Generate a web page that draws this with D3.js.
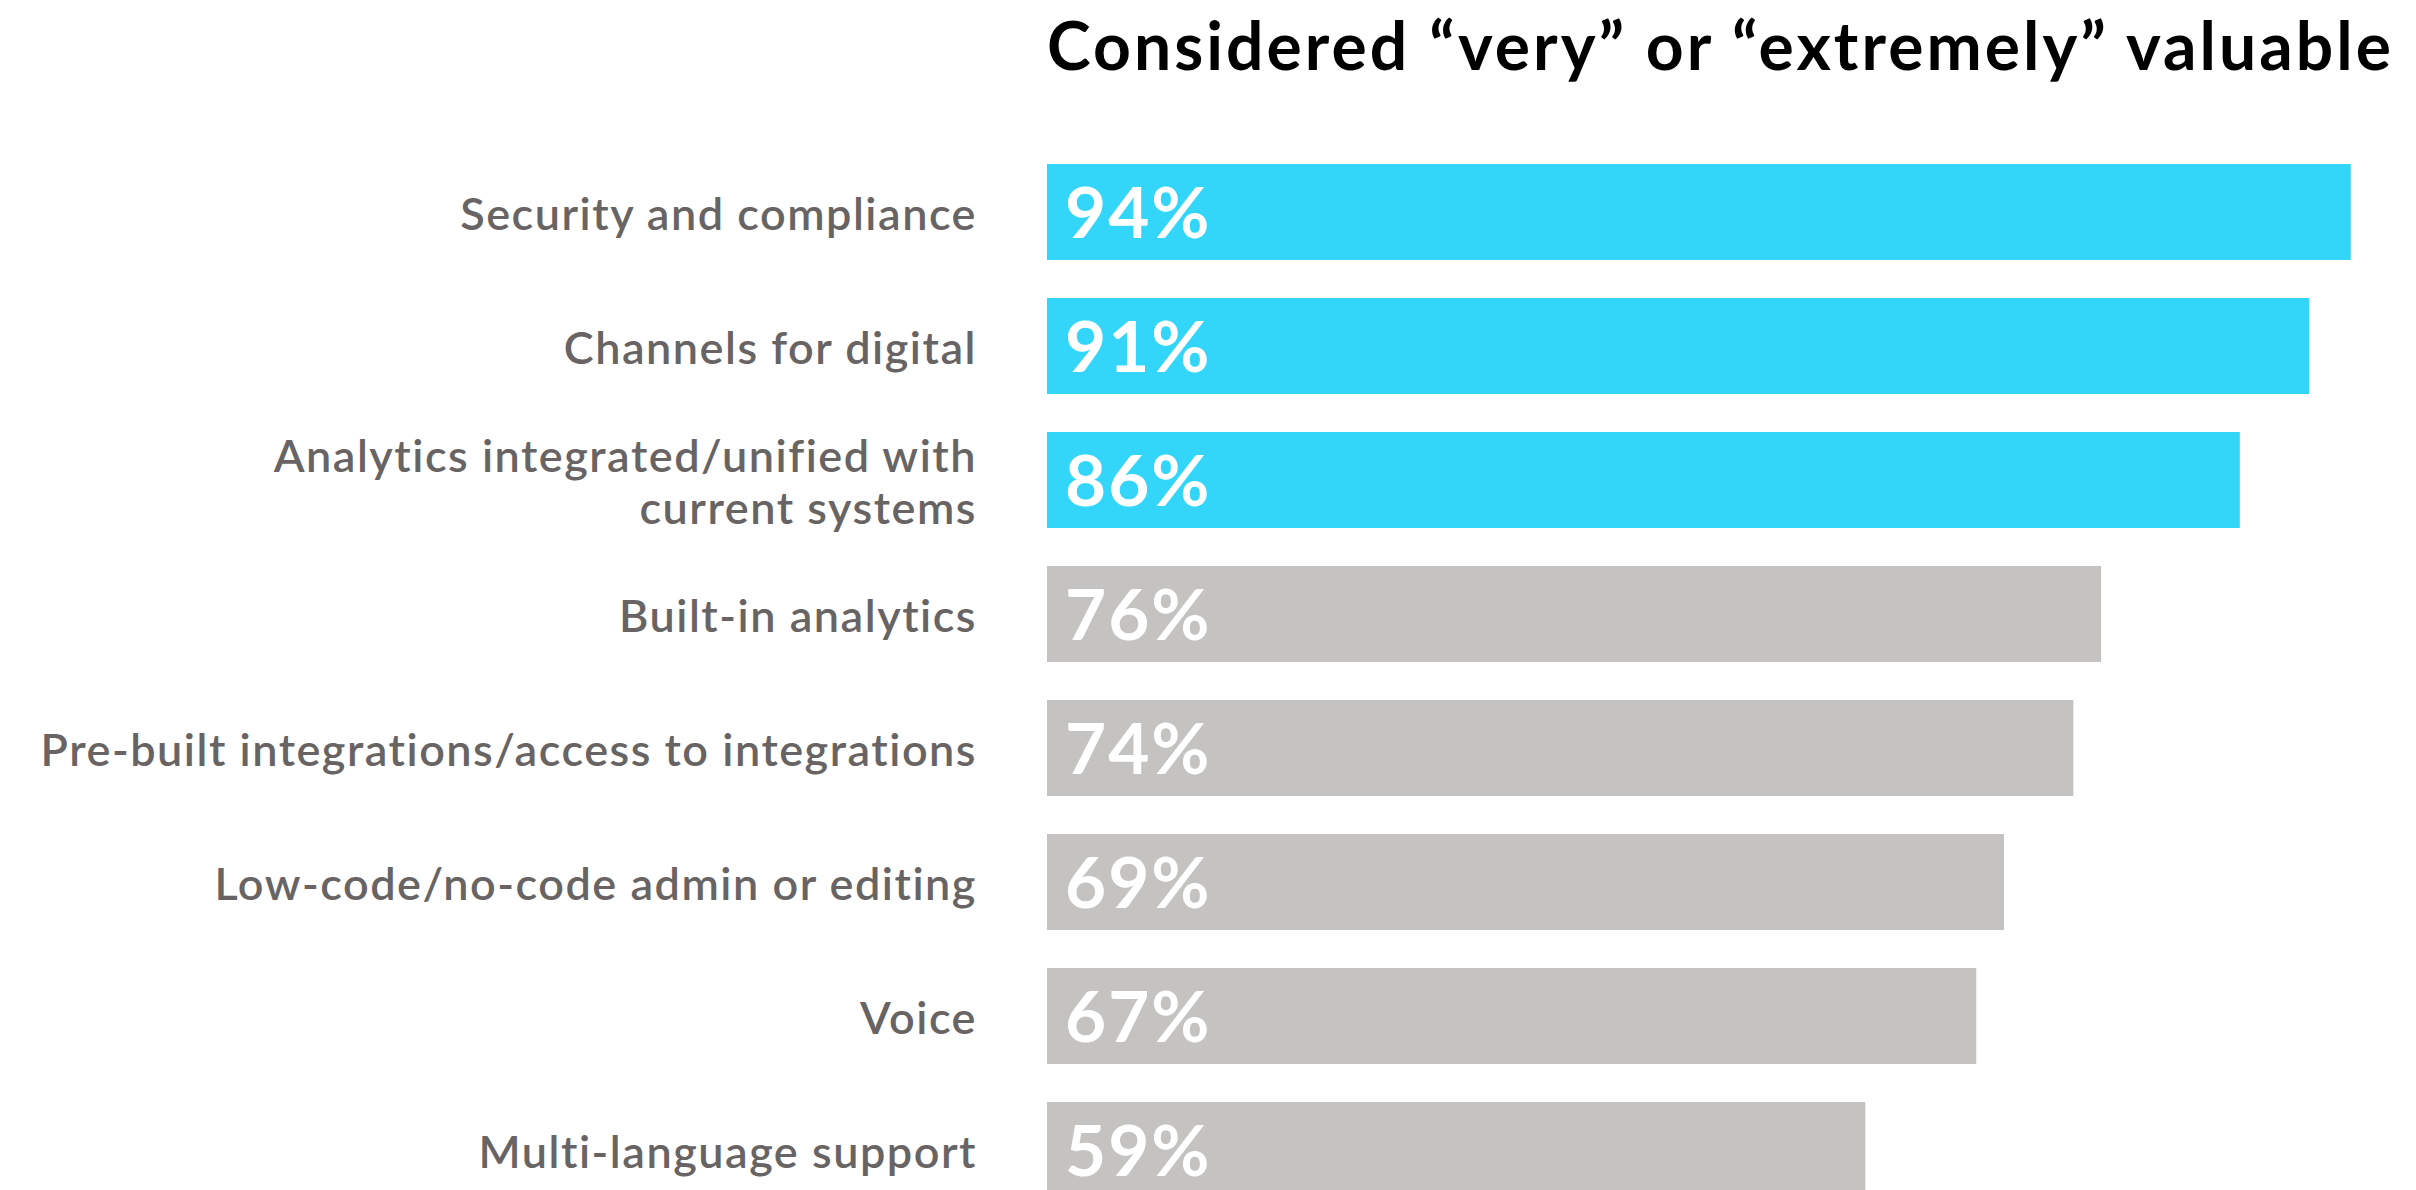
<!DOCTYPE html>
<html>
<head>
<meta charset="utf-8">
<script src="https://cdn.jsdelivr.net/npm/d3@7"></script>
<style>
  html, body { margin: 0; padding: 0; background: #ffffff; overflow: hidden; }
  svg { display: block; }
</style>
</head>
<body>
<svg id="chart" width="2416" height="1190"></svg>
<script>
// Share of respondents rating each capability "very" or "extremely" valuable
const categories = [
  ["Security and compliance"],
  ["Channels for digital"],
  ["Analytics integrated/unified with", "current systems"],
  ["Built-in analytics"],
  ["Pre-built integrations/access to integrations"],
  ["Low-code/no-code admin or editing"],
  ["Voice"],
  ["Multi-language support"]
];
const values = [94, 91, 86, 76, 74, 69, 67, 59];
const highlighted = [true, true, true, false, false, false, false, false];
const title = "Considered \u201Cvery\u201D or \u201Cextremely\u201D valuable";

const FONT = "Lato, 'Open Sans', sans-serif";
const COLOR_HI = "#33d6f8";
const COLOR_LO = "#c4c3c1";
const COLOR_LABEL = "#686464";

const svg = d3.select("#chart");

const keys = categories.map(d => d.join(" "));
const rows = keys.map((k, i) => ({ key: k, lines: categories[i], value: values[i], hi: highlighted[i] }));

const x = d3.scaleLinear().domain([0, 100]).range([1047, 2434]);
const y = d3.scaleBand()
  .domain(keys)
  .range([164, 1198])
  .paddingInner(38 / 134)
  .paddingOuter(0);

// Spread a text's letters so it spans the given width
function spreadTo(sel, targetWidth, chars) {
  const w = sel.node().getComputedTextLength();
  return (targetWidth - w) / chars;
}

// Title
const titleText = svg.append("text")
  .attr("x", x(0))
  .attr("y", 70)
  .attr("font-family", FONT)
  .attr("font-weight", 700)
  .attr("font-size", 66)
  .attr("fill", "#000000")
  .text(title);
titleText.attr("letter-spacing", spreadTo(titleText, 1344, title.length - 1));

// Bars
svg.append("g").selectAll("rect")
  .data(rows)
  .join("rect")
  .attr("x", x(0))
  .attr("y", d => y(d.key))
  .attr("width", d => x(d.value) - x(0))
  .attr("height", y.bandwidth())
  .attr("fill", d => d.hi ? COLOR_HI : COLOR_LO);

// Value labels inside bars
svg.append("g").selectAll("text")
  .data(rows)
  .join("text")
  .attr("x", x(0) + 18)
  .attr("y", d => y(d.key) + y.bandwidth() / 2 + 26)
  .attr("font-family", FONT)
  .attr("font-weight", 700)
  .attr("font-size", 71)
  .attr("letter-spacing", 2)
  .attr("fill", "#ffffff")
  .text(d => d.value + "%");

// Category labels, right-aligned beside the bars
const labText = svg.append("g").selectAll("text")
  .data(rows)
  .join("text")
  .attr("text-anchor", "end")
  .attr("font-family", FONT)
  .attr("font-weight", 600)
  .attr("font-size", 45)
  .attr("fill", COLOR_LABEL);

labText.each(function(d) {
  const t = d3.select(this);
  const cy = y(d.key) + y.bandwidth() / 2;
  const lineH = 52;
  const n = d.lines.length;
  d.lines.forEach((line, j) => {
    t.append("tspan")
      .attr("x", 977)
      .attr("y", cy + 18 + (j - (n - 1) / 2) * lineH)
      .text(line);
  });
});
{
  const longest = labText.filter((d, i) => i === 4);
  const ls = spreadTo(longest, 938, categories[4][0].length);
  labText.attr("letter-spacing", Math.max(0, ls));
}
</script>
</body>
</html>
